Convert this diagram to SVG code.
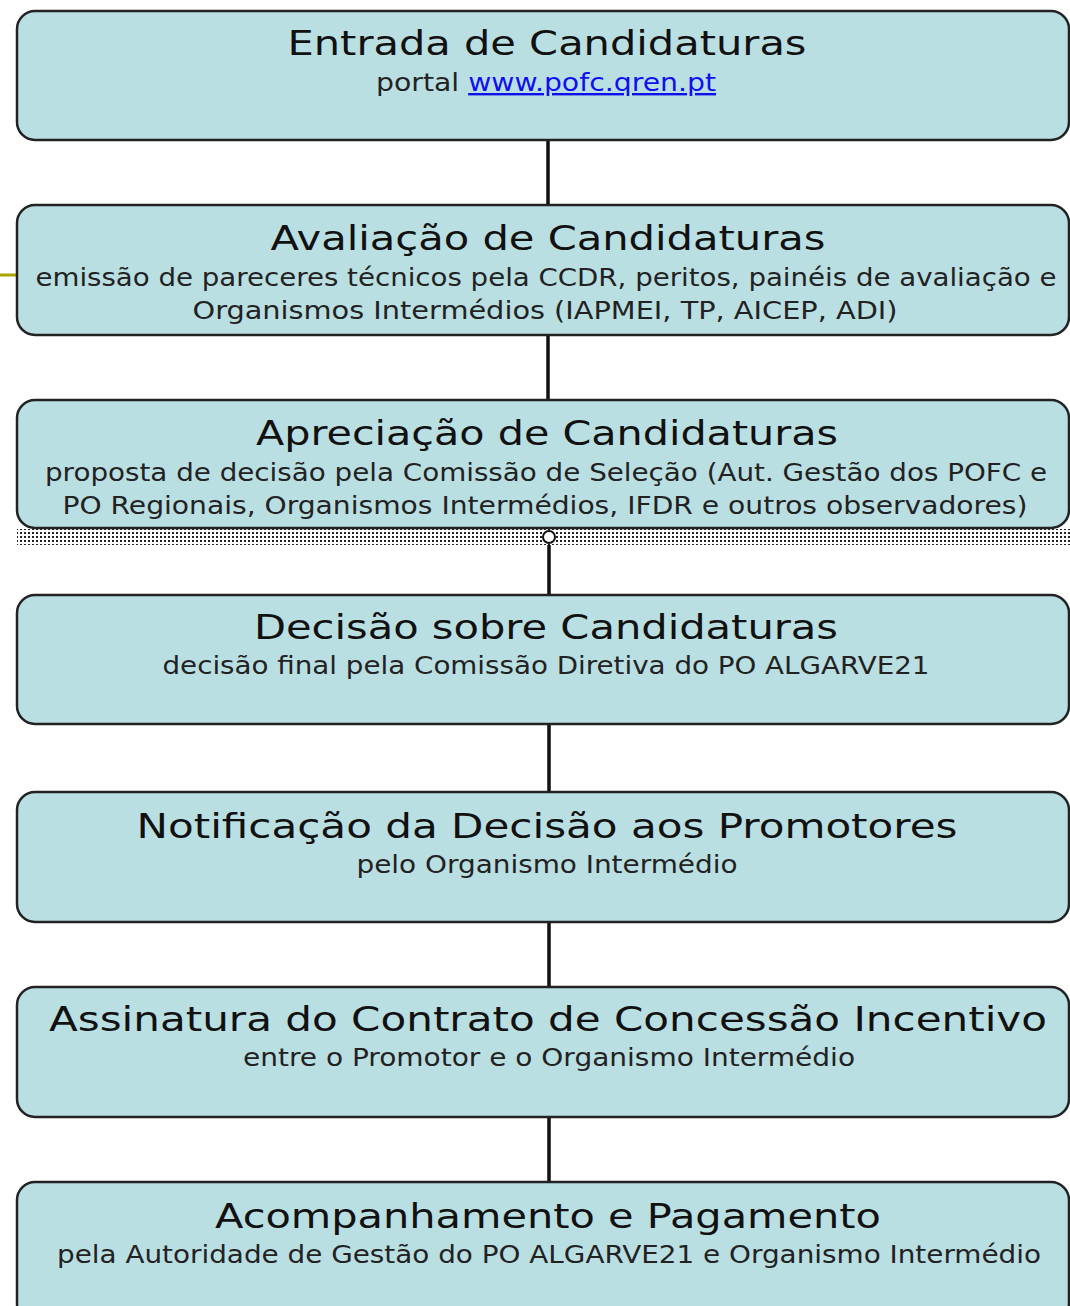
<svg xmlns="http://www.w3.org/2000/svg" width="1070" height="1306" viewBox="0 0 1070 1306">
<style>
.box{fill:#BADFE3;stroke:#222;stroke-width:2.5}
.t{font-family:"DejaVu Sans",Verdana,sans-serif;font-size:34px;fill:#111;text-anchor:middle}
.s{font-family:"DejaVu Sans",Verdana,sans-serif;font-size:24px;fill:#222;text-anchor:middle}
.c{stroke:#111;stroke-width:3.5}
</style>
<defs>
<pattern id="dots" width="4" height="4" patternUnits="userSpaceOnUse">
<rect width="4" height="4" fill="#fff"/>
<rect x="0" y="0" width="2" height="2" fill="#222"/>
</pattern>
</defs>
<rect width="1070" height="1306" fill="#fff"/>
<g id="connectors">
<line class="c" x1="548" y1="140" x2="548" y2="205"/>
<line class="c" x1="548" y1="335" x2="548" y2="400"/>
<line class="c" x1="549" y1="543" x2="549" y2="595"/>
<line class="c" x1="549" y1="724" x2="549" y2="792"/>
<line class="c" x1="549" y1="922" x2="549" y2="987"/>
<line class="c" x1="549" y1="1117" x2="549" y2="1182"/>
<line x1="0" y1="275" x2="17" y2="275" stroke="#A8A400" stroke-width="3"/>
</g>
<g id="n1">
<rect class="box" x="17" y="11" width="1052" height="129" rx="18"/>
<text class="t" x="547" y="55" textLength="519" lengthAdjust="spacingAndGlyphs">Entrada de Candidaturas</text>
<text class="s" x="546" y="91" textLength="340" lengthAdjust="spacingAndGlyphs">portal <tspan fill="#1010EE" text-decoration="underline">www.pofc.qren.pt</tspan></text>
</g>
<g id="n2">
<rect class="box" x="17" y="205" width="1052" height="130" rx="18"/>
<text class="t" x="548" y="250" textLength="555" lengthAdjust="spacingAndGlyphs">Avaliação de Candidaturas</text>
<text class="s" x="546" y="286" textLength="1021" lengthAdjust="spacingAndGlyphs">emissão de pareceres técnicos pela CCDR, peritos, painéis de avaliação e</text>
<text class="s" x="545" y="319" textLength="705" lengthAdjust="spacingAndGlyphs">Organismos Intermédios (IAPMEI, TP, AICEP, ADI)</text>
</g>
<g id="n3">
<rect x="17" y="529" width="1053" height="16" fill="url(#dots)"/>
<rect class="box" x="17" y="400" width="1052" height="128" rx="18"/>
<text class="t" x="547" y="445" textLength="582" lengthAdjust="spacingAndGlyphs">Apreciação de Candidaturas</text>
<text class="s" x="546" y="481" textLength="1002" lengthAdjust="spacingAndGlyphs">proposta de decisão pela Comissão de Seleção (Aut. Gestão dos POFC e</text>
<text class="s" x="545" y="514" textLength="965" lengthAdjust="spacingAndGlyphs">PO Regionais, Organismos Intermédios, IFDR e outros observadores)</text>
<circle cx="549" cy="537" r="6" fill="#fff" stroke="#111" stroke-width="2"/>
</g>
<g id="n4">
<rect class="box" x="17" y="595" width="1052" height="129" rx="18"/>
<text class="t" x="546" y="639" textLength="584" lengthAdjust="spacingAndGlyphs">Decisão sobre Candidaturas</text>
<text class="s" x="546" y="674" textLength="767" lengthAdjust="spacingAndGlyphs">decisão final pela Comissão Diretiva do PO ALGARVE21</text>
</g>
<g id="n5">
<rect class="box" x="17" y="792" width="1052" height="130" rx="18"/>
<text class="t" x="547" y="838" textLength="821" lengthAdjust="spacingAndGlyphs">Notificação da Decisão aos Promotores</text>
<text class="s" x="547" y="873" textLength="381" lengthAdjust="spacingAndGlyphs">pelo Organismo Intermédio</text>
</g>
<g id="n6">
<rect class="box" x="17" y="987" width="1052" height="130" rx="18"/>
<text class="t" x="548" y="1031" textLength="998" lengthAdjust="spacingAndGlyphs">Assinatura do Contrato de Concessão Incentivo</text>
<text class="s" x="549" y="1066" textLength="612" lengthAdjust="spacingAndGlyphs">entre o Promotor e o Organismo Intermédio</text>
</g>
<g id="n7">
<rect class="box" x="17" y="1182" width="1052" height="140" rx="18"/>
<text class="t" x="548" y="1228" textLength="666" lengthAdjust="spacingAndGlyphs">Acompanhamento e Pagamento</text>
<text class="s" x="549" y="1263" textLength="984" lengthAdjust="spacingAndGlyphs">pela Autoridade de Gestão do PO ALGARVE21 e Organismo Intermédio</text>
</g>
</svg>
